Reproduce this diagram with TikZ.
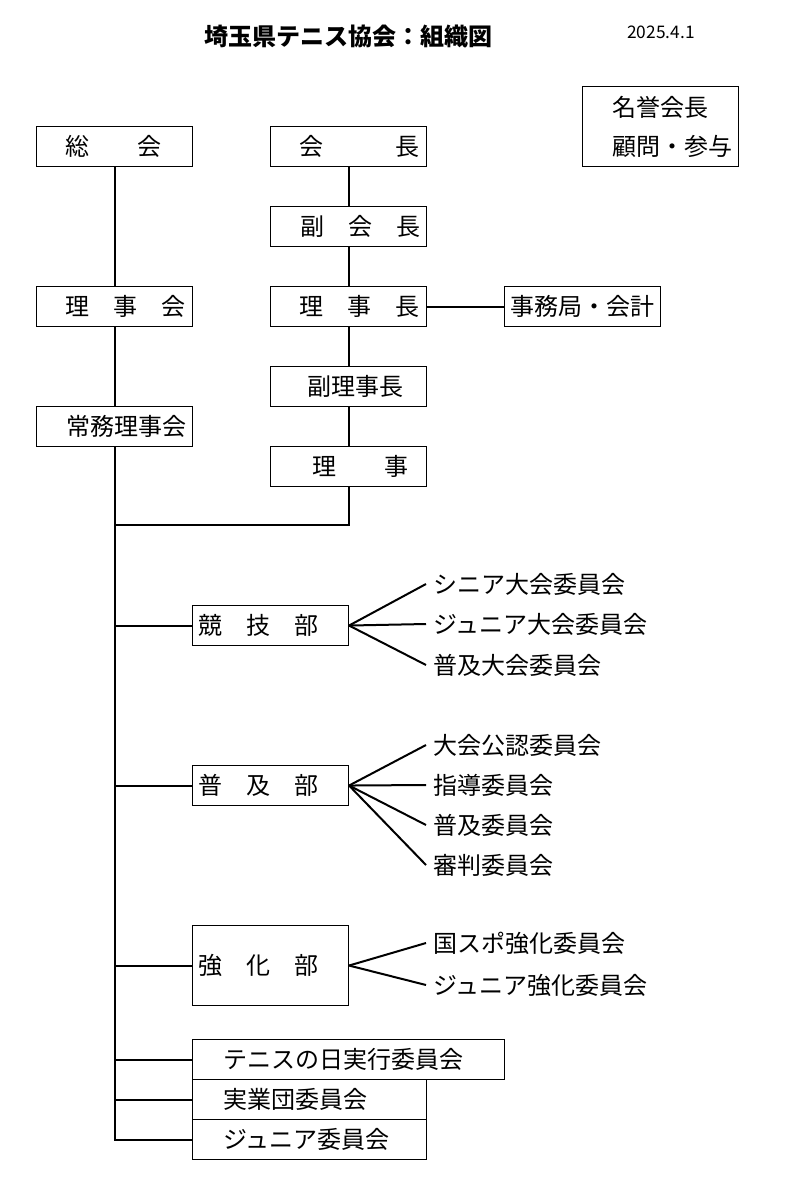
\documentclass[tikz,border=0pt]{standalone}
\usepackage{fontspec}
\setmainfont{Noto Sans CJK JP}

\begin{document}
\begin{tikzpicture}[x=0.75pt, y=-0.75pt, font=\fontsize{18pt}{22pt}\selectfont,
  box/.style={draw, line width=0.8pt, anchor=north west, inner xsep=0pt, inner ysep=0pt, minimum height=30pt, text width=#1, align=left},
  box/.default=117pt,
  item/.style={anchor=west, inner xsep=5.25pt, inner ysep=0pt},
  link/.style={line width=1.5pt}]
\useasboundingbox (0,0) rectangle (790,1184);
% title and date
\node[font=\fontsize{18pt}{22pt}\selectfont\bfseries] (title) at (348,36) {埼玉県テニス協会：組織図};
\node[font=\fontsize{13pt}{16pt}\selectfont] (date) at (661,32) {2025.4.1};
% upper boxes
\node[box] (sokai) at (36,126) {\hspace*{22pt}総　　会};
\node[box] (kaicho) at (270,126) {\hspace*{22pt}会　　　長};
\node[box, minimum height=60pt, font=\fontsize{18pt}{29.25pt}\selectfont] (meiyo) at (582,86) {\hspace*{22.5pt}名誉会長\\\hspace*{22.5pt}顧問・参与};
\node[box] (fukukaicho) at (270,206) {\hspace*{22.5pt}副　会　長};
\node[box] (rijikai) at (36,286) {\hspace*{22pt}理　事　会};
\node[box] (rijicho) at (270,286) {\hspace*{22pt}理　事　長};
\node[box] (jimu) at (504,286) {\hspace*{4.5pt}事務局・会計};
\node[box] (fukurijicho) at (270,366) {\hspace*{28pt}副理事長};
\node[box] (jomu) at (36,406) {\hspace*{22.5pt}常務理事会};
\node[box] (riji) at (270,446) {\hspace*{31.5pt}理　　事};
% departments
\node[box] (kyogi) at (192,605) {\hspace*{4.5pt}競　技　部};
\node[box] (fukyu) at (192,765) {\hspace*{4.5pt}普　及　部};
\node[box, minimum height=60pt] (kyoka) at (192,925) {\hspace*{4.5pt}強　化　部};
\node[box=234pt] (tennisday) at (192,1039) {\hspace*{23pt}テニスの日実行委員会};
\node[box=175.5pt] (jitsugyo) at (192,1079) {\hspace*{23pt}実業団委員会};
\node[box=175.5pt] (juniorc) at (192,1119) {\hspace*{23pt}ジュニア委員会};
% committees
\node[item] (senior) at (426,584) {シニア大会委員会};
\node[item] (juniort) at (426,624) {ジュニア大会委員会};
\node[item] (fukyut) at (426,665) {普及大会委員会};
\node[item] (koninn) at (426,745) {大会公認委員会};
\node[item] (shido) at (426,785) {指導委員会};
\node[item] (fukyui) at (426,825) {普及委員会};
\node[item] (shinpan) at (426,865) {審判委員会};
\node[item] (kokusupo) at (426,943) {国スポ強化委員会};
\node[item] (juniork) at (426,985) {ジュニア強化委員会};
\coordinate (join) at (114,525);
% connectors
\path [link] (sokai) edge (rijikai);
\path [link] (rijikai) edge (jomu);
\path [link] (kaicho) edge (fukukaicho);
\path [link] (fukukaicho) edge (rijicho);
\path [link] (rijicho) edge (fukurijicho);
\path [link] (fukurijicho) edge (riji);
\path [link] (rijicho) edge (jimu);
\draw [link] (riji.south) |- (join);
\draw [link] (jomu.south) |- (juniorc.west);
\draw [link] (jomu.south |- kyogi.west) -- (kyogi.west);
\draw [link] (jomu.south |- fukyu.west) -- (fukyu.west);
\draw [link] (jomu.south |- kyoka.west) -- (kyoka.west);
\draw [link] (jomu.south |- tennisday.west) -- (tennisday.west);
\draw [link] (jomu.south |- jitsugyo.west) -- (jitsugyo.west);
\path [link] (kyogi.east) edge (senior.west);
\path [link] (kyogi.east) edge (juniort.west);
\path [link] (kyogi.east) edge (fukyut.west);
\path [link] (fukyu.east) edge (koninn.west);
\path [link] (fukyu.east) edge (shido.west);
\path [link] (fukyu.east) edge (fukyui.west);
\path [link] (fukyu.east) edge (shinpan.west);
\path [link] (kyoka.east) edge (kokusupo.west);
\path [link] (kyoka.east) edge (juniork.west);
\end{tikzpicture}
\end{document}
